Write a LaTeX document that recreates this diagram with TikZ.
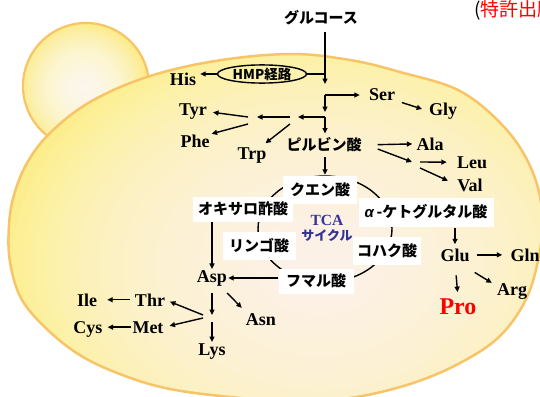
\documentclass[tikz,border=0pt]{standalone}
\usepackage{fontspec}
\setmainfont{Liberation Serif}
\newfontfamily\jp{Noto Sans CJK JP}
\newfontfamily\lsans{Liberation Sans}
\usetikzlibrary{arrows.meta,calc,shapes.geometric}

\definecolor{cellyel}{RGB}{252,236,128}
\definecolor{budyel}{RGB}{252,236,135}
\definecolor{cellrim}{RGB}{248,196,104}
\definecolor{tcablue}{RGB}{51,51,153}
\definecolor{proRed}{RGB}{255,0,0}

\tikzset{
  aa/.style={font=\bfseries\fontsize{18}{18}\selectfont, inner sep=0pt, anchor=base},
  jpt/.style={font=\jp\bfseries\fontsize{15}{15}\selectfont, inner sep=0pt},
  tcabox/.style={jpt, fill=white, inner sep=0pt},
  arr/.style={line width=1.4pt, -{Triangle[length=5.5pt,width=5pt]}},
  link/.style={line width=1.4pt},
  glow/.style={fill=white, fill opacity=#1, draw=none},
}

\begin{document}
\begin{tikzpicture}[x=1pt,y=-1pt]
\useasboundingbox (0,0) rectangle (540,396);
\clip (0,0) rectangle (540,396);

% budding daughter cell: yellow with a white centre
\fill[budyel] (86,86) circle[radius=63];
\foreach \k in {1,...,20}
  \fill[glow=0.1] (84,88) circle[radius={66-3.2*\k}];
\draw[cellrim, line width=2.2pt] (86,86) circle[radius=63];

% mother cell: yellow body with a soft white glow
\def\cellpath{plot[smooth cycle, tension=0.6] coordinates {
    (290,54) (350,60) (400,72) (460,91) (505,128) (531,168) (542,210)
    (540,250) (527,297) (500,336) (460,363) (410,384) (350,398) (290,401)
    (230,397) (170,389) (125,376) (83,357) (50,332) (22,300) (10,262)
    (9,225) (14,195) (27,163) (50,133) (90,102) (147,77) (215,61)}}
\fill[cellyel] \cellpath;
\begin{scope}
  \clip \cellpath;
  \foreach \k in {0,...,29}
    \fill[glow=0.065] (320,265) ellipse[x radius={330-11*\k}, y radius={250-8.33*\k}];
\end{scope}
\draw[cellrim, line width=2.5pt] \cellpath;

% TCA ring (shows between the labels)
\draw[link] (325,229) ellipse[x radius=67, y radius=53];

% note in the corner
\node[anchor=west, inner sep=0pt, font=\jp\fontsize{19}{19}\selectfont] (note)
  at (474,10) {(\textcolor{red}{特許出願中})};

% labels
\node[jpt] (glc) at (321,17.5) {グルコース};
\node[draw, ellipse, line width=1.4pt, minimum width=89pt, minimum height=17pt,
      inner sep=0pt, font=\jp\bfseries\fontsize{13.5}{13.5}\selectfont] (hmp)
  at (262,74) {HMP経路};
\node[aa] (his) at (183,85) {His};
\node[aa] (ser) at (382,100) {Ser};
\node[aa] (gly) at (443,115.5) {Gly};
\node[jpt] (pyr) at (324,145) {ピルビン酸};
\node[aa] (ala) at (430,150) {Ala};
\node[aa] (leu) at (472,168) {Leu};
\node[aa] (val) at (470,191) {Val};
\node[aa] (tyr) at (193,115.5) {Tyr};
\node[aa] (phe) at (195,147) {Phe};
\node[aa] (trp) at (252,159) {Trp};

\node[tcabox, minimum width=74pt, minimum height=28pt] (cit) at (320,190) {クエン酸};
\node[tcabox, minimum width=100pt, minimum height=25pt] (oxa) at (243,209) {オキサロ酢酸};
\node[tcabox, minimum width=73pt, minimum height=28pt] (mal) at (259,246) {リンゴ酸};
\node[tcabox, minimum width=75pt, minimum height=25pt] (fum) at (316,281) {フマル酸};
\node[tcabox, minimum width=135pt, minimum height=29pt] (akg) at (426,212)
  {{\lsans\bfseries\itshape α}\,-ケトグルタル酸};
\node[tcabox, minimum width=68pt, minimum height=28pt] (suc) at (387,251) {コハク酸};
\node[aa, font=\bfseries\fontsize{15.5}{15.5}\selectfont, text=tcablue] (tca)
  at (327,225) {TCA};
\node[jpt, font=\jp\bfseries\fontsize{13}{13}\selectfont, text=tcablue] (cyc)
  at (327,236) {サイクル};

\node[aa] (asp) at (212,282) {Asp};
\node[aa] (thr) at (150,306) {Thr};
\node[aa] (ile) at (87,306) {Ile};
\node[aa] (met) at (148,333) {Met};
\node[aa] (cys) at (88,333) {Cys};
\node[aa] (lys) at (212,355) {Lys};
\node[aa] (asn) at (261,325) {Asn};
\node[aa] (glu) at (455,261) {Glu};
\node[aa] (gln) at (525,261) {Gln};
\node[aa] (arg) at (512,295) {Arg};
\node[aa, font=\bfseries\fontsize{24}{24}\selectfont, text=proRed] (pro) at (458,314) {Pro};

% branch points
\coordinate (j0) at (325,84);
\coordinate (hmpj) at (325,74);
\coordinate (j1) at (325,95);
\coordinate (j2) at (325,117);
\coordinate (ja) at (290,117);
\coordinate (ja2) at (290,124);
\coordinate (jb) at (248,117);
\coordinate (jb2) at (248,124);
\coordinate (jc) at (412,162);
\coordinate (jd) at (212,315);
\coordinate (jt) at (203,315);
\coordinate (jm) at (203,318);
\coordinate (jl) at (212,322);

% glycolysis and side branches
\draw[arr, shorten <=7pt] (glc.south -| j0) -- (j0);
\draw[link] (hmp.east) -- (hmpj);
\draw[arr, shorten >=4pt] (hmp.west) -- (his.east |- hmp.west);
\draw[arr, shorten >=9pt] (j1) -- (ser.west |- j1);
\draw[arr, shorten >=5pt] (j1) -- (j2);
\draw[arr, shorten >=8pt] (j2) -- (ja);
\draw[arr, shorten >=4pt] (j2) -- (pyr.north -| j2);
\draw[arr, shorten >=9pt] (ja) -- (jb);
\draw[arr, shorten >=6pt] (ja2) -- ($(trp.north)!0.6!(trp.north east)$);
\draw[arr, shorten >=6pt] (jb) -- (tyr.east);
\draw[arr, shorten >=2pt] (jb2) -- (phe.north east);
\draw[arr, shorten <=7pt, shorten >=7pt] (ser.south east) -- (gly.west);
\draw[arr, shorten <=16pt, shorten >=4pt] (pyr.east) -- (ala.west);
\draw[arr] ($(pyr.east)+(16,4)$) -- (jc);
\draw[arr, shorten >=10pt] ($(jc)+(8,0)$) -- (leu.west);
\draw[arr, shorten >=10pt] ($(jc)+(8,6)$) -- (val.west);
\draw[arr, shorten <=5pt, shorten >=1pt] (pyr.south -| j2) -- (cit.north -| j2);

% aspartate family
\draw[arr, shorten >=1pt] (fum.west |- asp.east) -- (asp.east);
\draw[arr, shorten >=1pt] (oxa.south -| asp) -- (asp.north);
\draw[arr, shorten <=7pt] (asp.south) -- (jd);
\draw[arr] ($(asp.south east)+(0,7)$) -- ($(asn.north west)+(-4,-5)$);
\draw[arr, shorten >=5pt] (jt) -- (thr.east);
\draw[arr, shorten >=6pt] (jm) -- (met.east);
\draw[arr, shorten >=1pt] (jl) -- (lys.north);
\draw[arr, shorten <=5pt, shorten >=10pt] (thr.west) -- (ile.east |- thr.west);
\draw[arr, shorten <=1pt, shorten >=5pt] (met.west) -- (cys.east |- met.west);

% glutamate family
\draw[arr, shorten <=1pt, shorten >=4pt] (akg.south -| glu) -- (glu.north);
\draw[arr, shorten <=7pt, shorten >=8pt] (glu.east) -- (gln.west |- glu.east);
\draw[arr] ($(glu.south east)+(5,11)$) -- ($(arg.north west)+(-5,0)$);
\draw[arr, shorten <=14pt, shorten >=6pt] (glu.south) -- (pro.north);
\end{tikzpicture}
\end{document}
